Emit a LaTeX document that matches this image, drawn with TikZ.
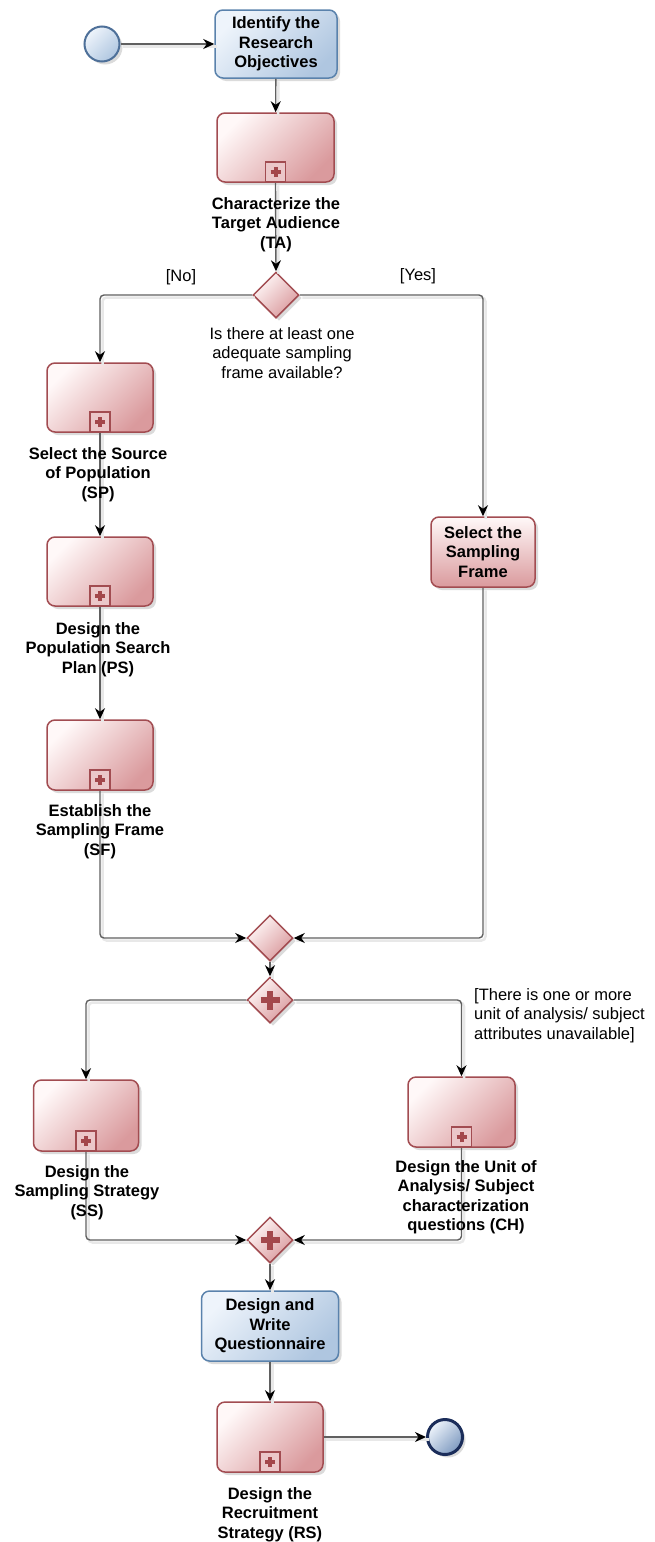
\documentclass[tikz,border=0pt]{standalone}
\usepackage{fontspec}
\setmainfont{Liberation Sans}
\usetikzlibrary{arrows.meta,shapes.geometric,shadows}
\definecolor{taskA}{HTML}{EEF4FB}
\definecolor{taskB}{HTML}{AFC6E0}
\definecolor{taskD}{HTML}{5A82AC}
\definecolor{subA}{HTML}{FFF8F8}
\definecolor{subB}{HTML}{DA9A9D}
\definecolor{subD}{HTML}{A24C51}
\definecolor{plusC}{HTML}{A3474B}
\definecolor{lineC}{HTML}{606060}
\definecolor{evD}{HTML}{4E7099}
\definecolor{endD}{HTML}{1B2D5A}
\definecolor{endB}{HTML}{7E9AC0}
\newcommand\subplus[1]{%
  \draw[mplusst] ([xshift=-5pt]#1.center) -- ([xshift=5pt]#1.center);
  \draw[mplusst] ([yshift=-5pt]#1.center) -- ([yshift=5pt]#1.center);}
\newcommand\gwplus[1]{%
  \draw[gplusst] ([xshift=-9.5pt]#1.center) -- ([xshift=9.5pt]#1.center);
  \draw[gplusst] ([yshift=-9.5pt]#1.center) -- ([yshift=9.5pt]#1.center);}
\begin{document}
\begin{tikzpicture}[x=1pt,y=-1pt,
  shd/.style={drop shadow={shadow xshift=3pt,shadow yshift=-3pt,fill=black,opacity=0.14}},
  task/.style={shd,rectangle,rounded corners=8pt,draw=taskD,line width=1.5pt,
    top color=taskA,bottom color=taskB,shading angle=45,align=center,
    font=\fontsize{16.5}{19.5}\selectfont\bfseries,inner sep=2pt},
  ptask/.style={task,draw=subD,top color=subA,bottom color=subB},
  sub/.style={shd,rectangle,rounded corners=8pt,draw=subD,line width=1.5pt,
    top color=subA,bottom color=subB,shading angle=45},
  marker/.style={rectangle,draw=subD,line width=1.3pt,fill=subB!55,
    minimum size=20pt,inner sep=0pt,anchor=south},
  mplusst/.style={draw=plusC,line width=4pt},
  gplusst/.style={draw=plusC,line width=5.5pt},
  gw/.style={shd,diamond,draw=subD,line width=1.5pt,top color=subA,bottom color=subB,
    shading angle=45,minimum width=46pt,minimum height=46pt,inner sep=0pt},
  lbl/.style={align=center,anchor=north,inner sep=0pt,
    font=\fontsize{16.5}{19.5}\selectfont\bfseries},
  note/.style={inner sep=0pt,font=\fontsize{16.5}{19.5}\selectfont},
  conn/.style={draw=lineC,line width=1.4pt,rounded corners=4pt,
    preaction={draw=black!9,line width=2.5pt,-,transform canvas={shift={(2.5pt,-2.5pt)}}},
    -{Stealth[length=11pt,width=10pt,inset=3.5pt,color=black]}},
  startev/.style={shd,circle,draw=evD,line width=2pt,top color=taskA,bottom color=taskB,
    shading angle=45,minimum size=35pt,inner sep=0pt},
  endev/.style={shd,circle,draw=endD,line width=3pt,top color=taskA,bottom color=endB,
    shading angle=45,minimum size=35pt,inner sep=0pt}
]
\useasboundingbox (0,0) rectangle (654,1542);

% nodes
\node[startev] (st) at (102,44) {};
\node[task,minimum width=122pt,minimum height=68pt] (t1) at (276,44) {Identify the\\Research\\Objectives};
\node[sub,minimum width=117pt,minimum height=69pt] (ta) at (275.5,147.5) {};
\node[marker] (tam) at (ta.south) {};
\node[gw] (g1) at (276,295) {};
\node[sub,minimum width=106pt,minimum height=69pt] (sp) at (100,397.5) {};
\node[marker] (spm) at (sp.south) {};
\node[sub,minimum width=106pt,minimum height=69pt] (ps) at (100,571.5) {};
\node[marker] (psm) at (ps.south) {};
\node[sub,minimum width=106pt,minimum height=70pt] (sf) at (100,755) {};
\node[marker] (sfm) at (sf.south) {};
\node[ptask,minimum width=104pt,minimum height=70pt] (ssf) at (483,552) {Select the\\Sampling\\Frame};
\node[gw] (g2) at (270,938) {};
\node[gw] (g3) at (270,1000) {};
\node[sub,minimum width=105pt,minimum height=71pt] (ss) at (86,1115.5) {};
\node[marker] (ssm) at (ss.south) {};
\node[sub,minimum width=107pt,minimum height=70pt] (ch) at (461.5,1112) {};
\node[marker] (chm) at (ch.south) {};
\node[gw] (g4) at (270,1240) {};
\node[task,minimum width=137pt,minimum height=70pt] (q) at (270,1326) {Design and\\Write\\Questionnaire};
\node[sub,minimum width=106pt,minimum height=70pt] (rs) at (270,1437) {};
\node[marker] (rsm) at (rs.south) {};
\node[endev] (en) at (445,1437) {};

\subplus{tam}\subplus{spm}\subplus{psm}\subplus{sfm}\subplus{ssm}\subplus{chm}\subplus{rsm}
\gwplus{g3}\gwplus{g4}

% connectors
\draw[conn] (st) -- (t1);
\draw[conn] (t1) -- (ta);
\draw[conn] (tam.south) -- (g1.north);
\draw[conn] (g1.west) -| (sp.north);
\draw[conn] (g1.east) -| (ssf.north);
\draw[conn] (spm.south) -- (ps.north);
\draw[conn] (psm.south) -- (sf.north);
\draw[conn] (sfm.south) |- (g2.west);
\draw[conn] (ssf.south) |- (g2.east);
\draw[conn] (g2.south) -- (g3.north);
\draw[conn] (g3.west) -| (ss.north);
\draw[conn] (g3.east) -| (ch.north);
\draw[conn] (ssm.south) |- (g4.west);
\draw[conn] (chm.south) |- (g4.east);
\draw[conn] (g4.south) -- (q.north);
\draw[conn] (q.south) -- (rs.north);
\draw[conn] (rs.east) -- (en.west);

% labels
\node[lbl] (tal) at (276,197) {Characterize the\\Target Audience\\(TA)};
\node[lbl] (spl) at (98,447) {Select the Source\\of Population\\(SP)};
\node[lbl] (psl) at (98,622) {Design the\\Population Search\\Plan (PS)};
\node[lbl] (sfl) at (100,804) {Establish the\\Sampling Frame\\(SF)};
\node[lbl] (ssl) at (87,1165) {Design the\\Sampling Strategy\\(SS)};
\node[lbl] (chl) at (466,1160) {Design the Unit of\\Analysis/ Subject\\characterization\\questions (CH)};
\node[lbl] (rsl) at (270,1487) {Design the\\Recruitment\\Strategy (RS)};
\node[note,align=center,anchor=north] (qn) at (282,327) {Is there at least one\\adequate sampling\\frame available?};
\node[note] (no) at (181,277) {[No]};
\node[note] (yes) at (418,276) {[Yes]};
\node[note,align=left,anchor=north west] (an) at (474,988) {[There is one or more\\unit of analysis/ subject\\attributes unavailable]};
\end{tikzpicture}
\end{document}
